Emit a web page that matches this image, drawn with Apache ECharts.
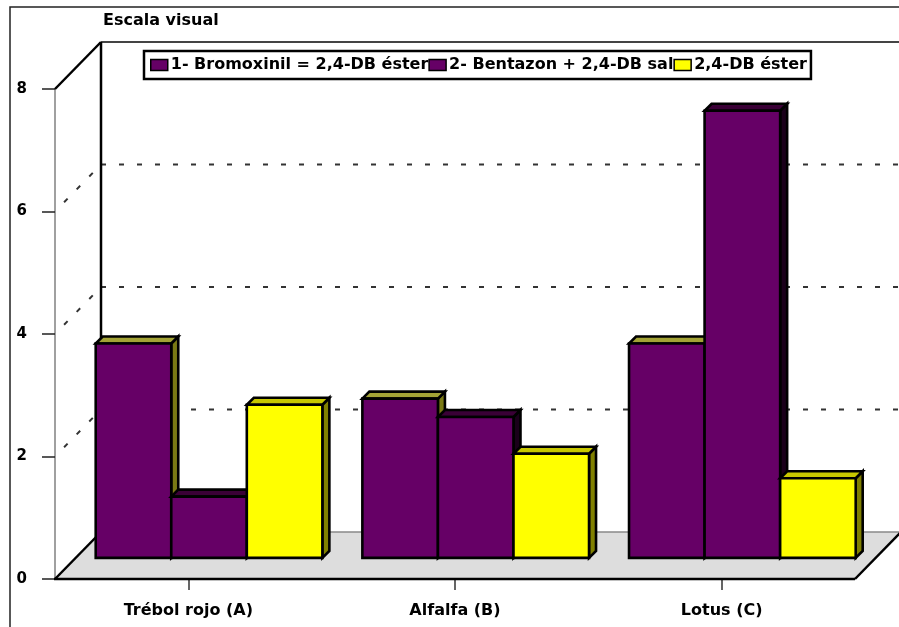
<!DOCTYPE html>
<html>
<head>
<meta charset="utf-8">
<script src="https://cdn.jsdelivr.net/npm/echarts@6/dist/echarts.min.js"></script>
<style>
  html, body { margin: 0; padding: 0; background: #fff; }
  #chart { width: 899px; height: 627px; }
</style>
</head>
<body>
<div id="chart"></div>
<script>
// Visual injury scale per crop and herbicide treatment
const categories = ['Trébol rojo (A)', 'Alfalfa (B)', 'Lotus (C)'];
const seriesNames = ['1- Bromoxinil = 2,4-DB éster', '2- Bentazon + 2,4-DB sal', '2,4-DB éster'];
const bromoxinil = [3.5, 2.6, 3.5];
const bentazon = [1.0, 2.3, 7.3];
const dbEster = [2.5, 1.7, 1.3];
const yTicks = [0, 2, 4, 6, 8];

// Faces of each 3D column: front, top, side
const palettes = [
  { front: '#660066', top: '#a3a336', side: '#7a7a14' },
  { front: '#660066', top: '#3a0036', side: '#1a001a' },
  { front: '#ffff00', top: '#c8c800', side: '#808000' }
];

const FONT = 'DejaVu Sans';
// Oblique depth of the plot box (front plane -> back wall)
const DEPTH_X = 46, DEPTH_Y = -47;
// Columns stand part way into the box, with a small thickness of their own
const BAR_POS = 0.45;
const BAR_DEPTH = 7;
const BAR_SHARE = 0.85;

function lineEl(x1, y1, x2, y2, style) {
  return { type: 'line', shape: { x1, y1, x2, y2 }, style: Object.assign({ fill: null }, style) };
}

// Floor, side wall and back wall of the box
function renderWalls(params, api) {
  const band = api.size([1, 0])[0];
  const L = api.coord([0, 0])[0] - band / 2;
  const R = api.coord([categories.length - 1, 0])[0] + band / 2;
  const yOf = v => api.coord([0, v])[1];
  const y0 = yOf(yTicks[0]);
  const yTop = yOf(yTicks[yTicks.length - 1]);
  const dotted = { stroke: '#333', lineWidth: 2, lineDash: [5, 13] };
  const solid = { stroke: '#000', lineWidth: 2.5 };
  const children = [];
  children.push({
    type: 'polygon',
    shape: { points: [[L, y0], [R, y0], [R + DEPTH_X, y0 + DEPTH_Y], [L + DEPTH_X, y0 + DEPTH_Y]] },
    style: { fill: '#dddddd', stroke: null }
  });
  children.push(lineEl(L + DEPTH_X, y0 + DEPTH_Y, R + DEPTH_X, y0 + DEPTH_Y, { stroke: '#888', lineWidth: 1.5 }));
  yTicks.slice(1, -1).forEach(v => {
    const y = yOf(v);
    children.push(lineEl(L, y, L + DEPTH_X, y + DEPTH_Y, Object.assign({ lineDashOffset: 5 }, dotted)));
    children.push(lineEl(L + DEPTH_X, y + DEPTH_Y, R + DEPTH_X, y + DEPTH_Y, dotted));
  });
  children.push(lineEl(L + DEPTH_X, yTop + DEPTH_Y, R + DEPTH_X, yTop + DEPTH_Y, { stroke: '#444', lineWidth: 2 }));
  children.push(lineEl(L, yTop, L + DEPTH_X, yTop + DEPTH_Y, solid));
  children.push(lineEl(L + DEPTH_X, yTop + DEPTH_Y, L + DEPTH_X, y0 + DEPTH_Y, solid));
  children.push(lineEl(L, y0, L + DEPTH_X, y0 + DEPTH_Y, solid));
  children.push(lineEl(R, y0, R + DEPTH_X, y0 + DEPTH_Y, solid));
  children.push(lineEl(L - 1, y0, R, y0, solid));
  return { type: 'group', children };
}

function makeBarRenderer(k) {
  const pal = palettes[k];
  return function (params, api) {
    const cat = api.value(0);
    const val = api.value(1);
    const base = api.coord([cat, 0]);
    const top = api.coord([cat, val]);
    const band = api.size([1, 0])[0];
    const w = band * BAR_SHARE / categories.length;
    const dx = DEPTH_X * BAR_POS, dy = DEPTH_Y * BAR_POS;
    const x0 = base[0] - w * 1.5 + k * w + dx;
    const yb = base[1] + dy;
    const yt = top[1] + dy;
    const d = BAR_DEPTH;
    const edge = { stroke: '#000', lineWidth: 2.6, lineJoin: 'miter' };
    return {
      type: 'group',
      children: [
        { type: 'polygon', shape: { points: [[x0 + w, yt], [x0 + w + d, yt - d], [x0 + w + d, yb - d], [x0 + w, yb]] },
          style: Object.assign({ fill: pal.side }, edge) },
        { type: 'polygon', shape: { points: [[x0, yt], [x0 + w, yt], [x0 + w + d, yt - d], [x0 + d, yt - d]] },
          style: Object.assign({ fill: pal.top }, edge) },
        { type: 'rect', shape: { x: x0, y: yt, width: w, height: yb - yt },
          style: Object.assign({ fill: pal.front }, edge) }
      ]
    };
  };
}

const seriesValues = [bromoxinil, bentazon, dbEster];

const chart = echarts.init(document.getElementById('chart'), null, { renderer: 'canvas' });

const series = [{
  type: 'custom',
  name: 'walls',
  silent: true,
  renderItem: renderWalls,
  data: [[0, 0]],
  z: 1
}];
seriesValues.forEach((vals, k) => {
  series.push({
    type: 'custom',
    name: seriesNames[k],
    renderItem: makeBarRenderer(k),
    itemStyle: { color: palettes[k].front, borderColor: '#000', borderWidth: 1.5 },
    data: vals.map((v, i) => [i, v]),
    z: 2 + k
  });
});

chart.setOption({
  animation: false,
  backgroundColor: '#fff',
  title: {
    text: 'Escala visual',
    left: 103,
    top: 13,
    padding: 0,
    textStyle: { fontFamily: FONT, fontWeight: 'bold', fontSize: 16, color: '#000' }
  },
  legend: {
    data: seriesNames.map((n, k) => ({
      name: n,
      icon: 'rect',
      itemStyle: { color: palettes[k].front, borderColor: '#000', borderWidth: 1.5 }
    })),
    left: 144,
    top: 51,
    orient: 'horizontal',
    itemGap: 0,
    itemWidth: 17,
    itemHeight: 11,
    padding: [6, 4, 6, 6],
    borderColor: '#000',
    borderWidth: 2.5,
    backgroundColor: '#fff',
    selectedMode: false,
    textStyle: { fontFamily: FONT, fontWeight: 'bold', fontSize: 16, color: '#000', padding: [0, 0, 0, -2] }
  },
  grid: { left: 55, top: 89, width: 800, height: 490, containLabel: false },
  xAxis: {
    type: 'category',
    data: categories,
    boundaryGap: true,
    axisLine: { show: false },
    axisTick: { show: true, alignWithLabel: true, length: 11, lineStyle: { color: '#333', width: 1.5 } },
    axisLabel: { fontFamily: FONT, fontWeight: 'bold', fontSize: 16, color: '#000', margin: 24 },
    splitLine: { show: false }
  },
  yAxis: {
    type: 'value',
    min: yTicks[0],
    max: yTicks[yTicks.length - 1],
    interval: yTicks[1] - yTicks[0],
    axisLine: { show: true, lineStyle: { color: '#808080', width: 1.5 } },
    axisTick: { show: true, length: 13, lineStyle: { color: '#222', width: 1.5 } },
    axisLabel: { fontFamily: FONT, fontWeight: 'bold', fontSize: 15, color: '#000', margin: 28 },
    splitLine: { show: false }
  },
  graphic: [{
    type: 'polyline',
    silent: true,
    shape: { points: [[10, 627], [10, 7], [899, 7]] },
    style: { stroke: '#222', lineWidth: 1.5, fill: null }
  }],
  series
});
</script>
</body>
</html>
